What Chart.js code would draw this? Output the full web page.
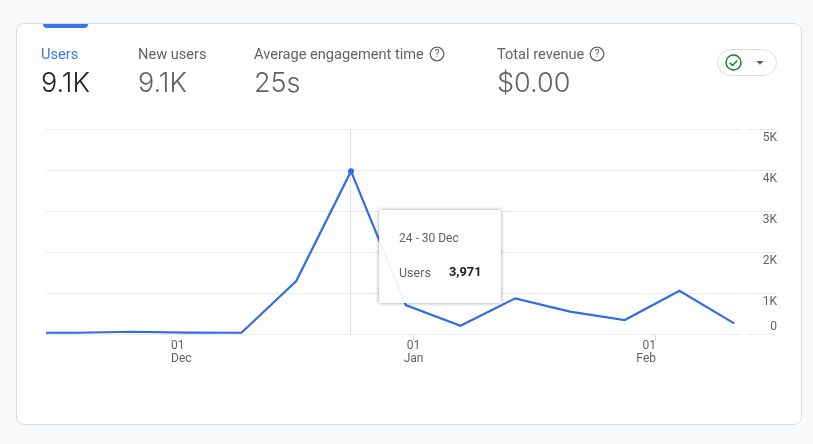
<!DOCTYPE html>
<html>
<head>
<meta charset="utf-8">
<script src="https://cdn.jsdelivr.net/npm/chart.js@4"></script>
<style>
    html, body { margin: 0; padding: 0; width: 813px; height: 444px; overflow: hidden; background: #f8f9fa; font-family: Roboto, sans-serif; }
    #card { position: absolute; left: 16px; top: 23px; width: 784px; height: 400px; background: #fff; border: 1px solid #dadce0; border-radius: 8px; }
    #tab { position: absolute; left: 43px; top: 24px; width: 45px; height: 4px; background: #3a76e8; border-radius: 0 0 4px 4px; }
    #chart { position: absolute; left: 0; top: 0; }
    .metric { position: absolute; top: 45px; color: #5f6368; font-size: 14.6px; line-height: 18px; white-space: nowrap; }
    .metric b { display: block; font-family: Inter, Roboto, sans-serif; font-weight: 300; font-size: 27px; line-height: 30px; margin-top: 5px; }
    .metric.on { color: #3b78e7; }
    .metric.on b { color: #202124; }
    .help { display: inline-block; vertical-align: -3px; margin-left: 5px; }
    #pick { position: absolute; left: 717px; top: 49px; width: 58px; height: 25px; border: 1px solid #dadce0; border-radius: 14px; background: #fff; }
    #tip { position: absolute; left: 379px; top: 210px; width: 122px; height: 93px; background: rgba(255,255,255,.93); box-shadow: 0 0 4px rgba(0,0,0,.4); font-size: 12px; color: #5f6368; }
    #tip div { position: absolute; left: 20px; white-space: nowrap; }
    #tip .val { left: 70px; font-weight: 700; color: #202124; font-size: 12.8px; }
</style>
</head>
<body>
<div id="card"></div>
<div id="tab"></div>
<canvas id="chart" width="813" height="444"></canvas>
<div id="metrics"></div>
<div id="pick">
    <svg width="58" height="25" viewBox="0 0 58 25">
        <circle cx="15.5" cy="12.5" r="7.5" fill="none" stroke="#188038" stroke-width="1.5"/>
        <path d="M11.8 12.7 l2.7 2.7 l4.8 -5" fill="none" stroke="#188038" stroke-width="1.5"/>
        <path d="M38.2 11 h7.5 l-3.75 3.75 z" fill="#5f6368"/>
    </svg>
</div>
<div id="tip">
    <div id="tipRange" style="top:21px"></div>
    <div id="tipName" style="top:55px;font-size:12.5px"></div>
    <div id="tipVal" class="val" style="top:54px"></div>
</div>
<script>
// Datos de la tarjeta
var metricNames = ['Users', 'New users', 'Average engagement time', 'Total revenue'];
var metricValues = ['9.1K', '9.1K', '25s', '$0.00'];
var metricLeft = [41, 138, 254, 497];

// days counted from 01 Dec, one point a week
var weekDays = [-19, -12, -5, 2, 9, 16, 23, 30, 37, 44, 51, 58, 65, 72];
var users = [30, 30, 55, 35, 30, 1290, 3971, 705, 200, 870, 545, 340, 1055, 260];
var tickDays = [0, 31, 62];
var tickDayLabels = ['01', '01', '01'];
var tickMonthLabels = ['Dec', 'Jan', 'Feb'];
var yTicks = [0, 1000, 2000, 3000, 4000, 5000];
var yTickLabels = ['0', '1K', '2K', '3K', '4K', '5K'];
var activeIndex = 6;
var activeRange = '24 - 30 Dec';

var helpIcon = '<svg class="help" width="16" height="16" viewBox="0 0 16 16"><circle cx="8" cy="8" r="6.8" fill="none" stroke="#5f6368" stroke-width="1.3"/><text x="8" y="11.4" font-size="10" text-anchor="middle" fill="#5f6368" font-family="Roboto">?</text></svg>';

metricNames.forEach(function(name, i) {
    var el = document.createElement('div');
    el.className = 'metric' + (i === 0 ? ' on' : '');
    el.style.left = metricLeft[i] + 'px';
    el.innerHTML = name + (i >= 2 ? helpIcon : '') + '<b>' + metricValues[i] + '</b>';
    document.getElementById('metrics').appendChild(el);
});

document.getElementById('tipRange').textContent = activeRange;
document.getElementById('tipName').textContent = metricNames[0];
document.getElementById('tipVal').textContent = users[activeIndex].toLocaleString('en-US');

// y labels, tick stubs, crosshair and x labels are not placed the usual way on this chart
var extras = {
    id: 'extras',
    afterDraw: function(chart) {
        var ctx = chart.ctx, xs = chart.scales.x, ys = chart.scales.y;
        ctx.save();
        ctx.font = '12px Roboto';
        ctx.fillStyle = '#5f6368';
        ctx.strokeStyle = '#e8eaed';
        ctx.lineWidth = 1;
        ctx.textBaseline = 'middle';
        ctx.textAlign = 'right';
        yTicks.forEach(function(v, i) {
            var y = Math.round(ys.getPixelForValue(v)) + 0.5;
            ctx.beginPath();
            ctx.moveTo(746, y);
            ctx.lineTo(776, y);
            ctx.stroke();
            ctx.fillText(yTickLabels[i], 777, y + (v === 0 ? -8 : 8));
        });
        var aligns = ['left', 'center', 'right'];
        tickDays.forEach(function(d, i) {
            var x = xs.getPixelForValue(d);
            ctx.textAlign = aligns[i];
            ctx.fillText(tickDayLabels[i], x, 346);
            ctx.fillText(tickMonthLabels[i], x, 359);
        });
        ctx.restore();
    },
    beforeDatasetsDraw: function(chart) {
        var ctx = chart.ctx, area = chart.chartArea;
        var x = Math.round(chart.scales.x.getPixelForValue(weekDays[activeIndex])) - 0.5;
        ctx.save();
        ctx.strokeStyle = '#e0e2e5';
        ctx.beginPath();
        ctx.moveTo(x, area.top);
        ctx.lineTo(x, area.bottom);
        ctx.stroke();
        ctx.restore();
    }
};

var points = weekDays.map(function(d, i) { return { x: d, y: users[i] }; });

new Chart(document.getElementById('chart').getContext('2d'), {
    type: 'line',
    data: {
        datasets: [{
            label: metricNames[0],
            data: points,
            borderColor: '#356ae6',
            backgroundColor: '#356ae6',
            borderWidth: 2.2,
            tension: 0,
            pointRadius: function(c) { return c.dataIndex === activeIndex ? 3 : 0; },
            pointBorderWidth: 0
        }]
    },
    options: {
        responsive: false,
        animation: false,
        layout: { padding: { left: 46, top: 129, right: 71, bottom: 110 } },
        plugins: { legend: { display: false }, tooltip: { enabled: false } },
        scales: {
            x: {
                type: 'linear',
                min: -16,
                max: 73,
                afterBuildTicks: function(s) { s.ticks = tickDays.map(function(d) { return { value: d }; }); },
                afterFit: function(s) { s.height = 0; },
                border: { display: false },
                grid: { drawOnChartArea: false, drawTicks: true, tickLength: 7, color: '#dadce0' },
                ticks: { display: false }
            },
            y: {
                position: 'right',
                min: 0,
                max: 5000,
                afterBuildTicks: function(s) { s.ticks = yTicks.map(function(v) { return { value: v }; }); },
                afterFit: function(s) { s.width = 0; },
                border: { display: false },
                grid: { color: '#e8eaed', drawTicks: false },
                ticks: { display: false }
            }
        }
    },
    plugins: [extras]
});
</script>
</body>
</html>
